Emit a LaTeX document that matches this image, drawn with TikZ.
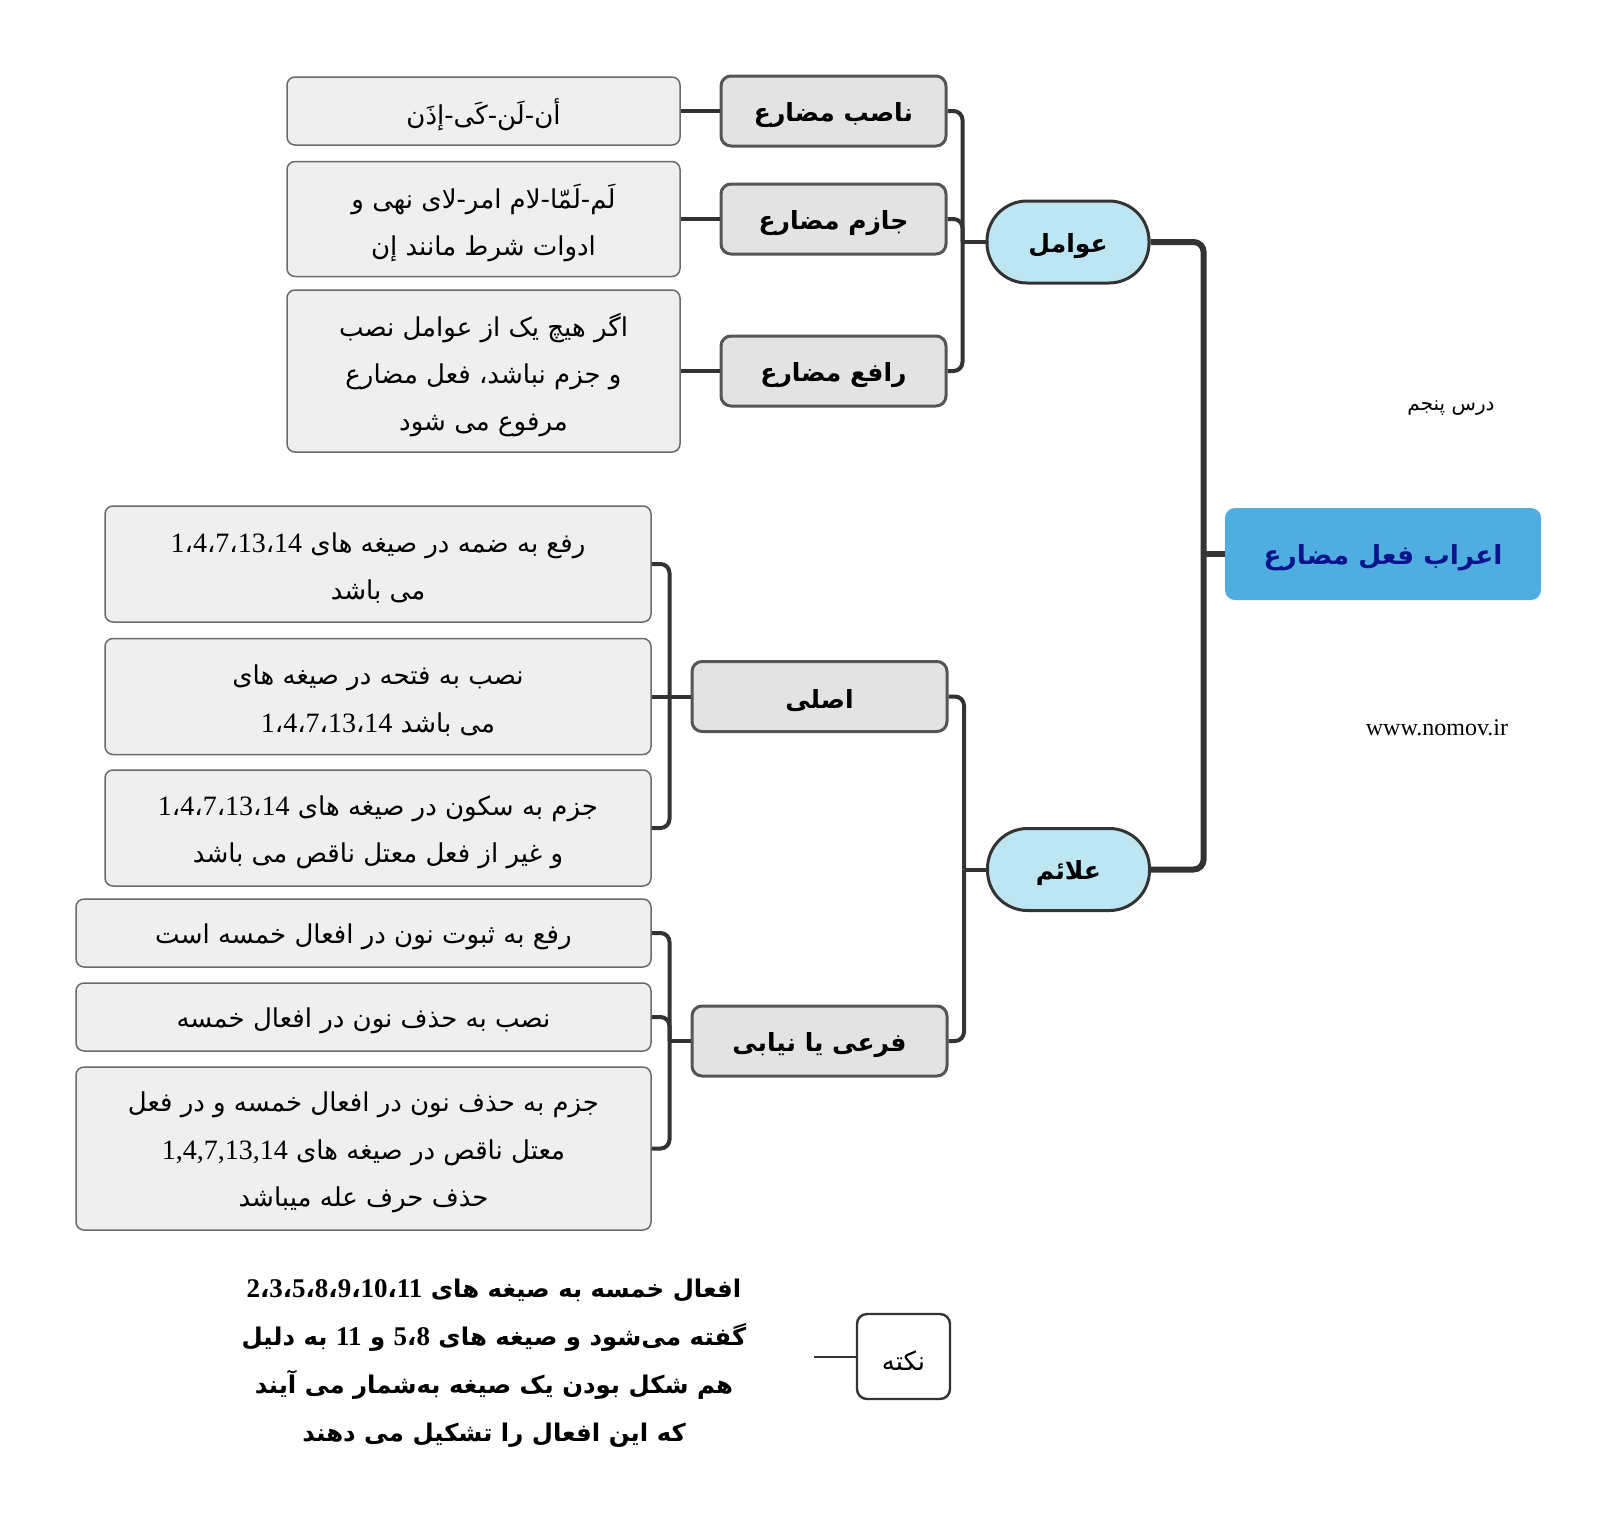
\documentclass[tikz,border=0pt]{standalone}
\usepackage{fontspec}
\usetikzlibrary{calc}
\TeXXeTstate=1
\newfontfamily\arfont[Script=Arabic]{DejaVu Sans}
\newfontfamily\dgfont{Liberation Serif}
\newcommand\ar[1]{\raisebox{-2pt}[\height][\depth]{\beginR #1\endR}}
\newcommand\dg[1]{{\dgfont\fontsize{14}{16}\selectfont #1}}
\newcommand\dgb[1]{{\dgfont\bfseries\fontsize{13.5}{16}\selectfont #1}}
\definecolor{leaffill}{HTML}{EFEFEF}
\definecolor{leafdraw}{HTML}{6B6B6B}
\definecolor{midfill}{HTML}{E3E3E3}
\definecolor{middraw}{HTML}{555555}
\definecolor{pillfill}{HTML}{BDE6F2}
\definecolor{linec}{HTML}{333333}
\definecolor{rootfill}{HTML}{4FAEDF}
\definecolor{roottext}{HTML}{0A148C}
\tikzset{
  leaf/.style={draw=leafdraw, line width=0.75pt, fill=leaffill, rounded corners=4pt,
    align=center, inner sep=0pt, font=\arfont\fontsize{13}{23.7}\selectfont},
  mid/.style={draw=middraw, line width=1.5pt, fill=midfill, rounded corners=5pt,
    align=center, inner sep=0pt, minimum height=35pt, font=\arfont\bfseries\fontsize{12.5}{16}\selectfont},
  pill/.style={draw=linec, line width=1.5pt, fill=pillfill, rounded corners=20pt,
    align=center, inner sep=0pt, minimum width=81pt, minimum height=41pt, font=\arfont\bfseries\fontsize{12.5}{16}\selectfont},
  rootbox/.style={fill=rootfill, rounded corners=5pt, text=roottext, align=center, inner sep=0pt,
    minimum width=158pt, minimum height=46pt, font=\arfont\bfseries\fontsize{13.2}{20}\selectfont},
  notebox/.style={draw=linec, line width=1.2pt, fill=white, rounded corners=5pt, inner sep=0pt,
    minimum width=46.5pt, minimum height=42.5pt, font=\arfont\fontsize{13}{16}\selectfont},
  con/.style={draw=linec, line width=2pt, rounded corners=4.5pt},
  rootcon/.style={draw=linec, line width=3pt, rounded corners=5pt},
  notecon/.style={draw=linec, line width=1pt},
}
\begin{document}
\begin{tikzpicture}[x=0.5pt,y=-0.5pt]
\useasboundingbox (0,0) rectangle (1617,1537);
\fill[white] (0,0) rectangle (1617,1537);

% root
\node[rootbox] (root) at (1383,554) {\ar{اعراب فعل مضارع}};

% level 1
\node[pill] (aw) at (1068,242) {\ar{عوامل}};
\node[pill] (al) at (1068.5,869.5) {\ar{علائم}};

% level 2
\node[mid, minimum width=112.5pt] (n1) at (833.5,111) {\ar{ناصب مضارع}};
\node[mid, minimum width=112.5pt] (n2) at (833.5,219) {\ar{جازم مضارع}};
\node[mid, minimum width=112.5pt] (n3) at (833.5,371) {\ar{رافع مضارع}};
\node[mid, minimum width=127.5pt] (as) at (819.5,696.5) {\ar{اصلی}};
\node[mid, minimum width=127.5pt] (fr) at (819.5,1041) {\ar{فرعی یا نیابی}};

% leaves of awamel
\node[leaf, minimum width=196.5pt, minimum height=34pt] (a1) at (483.5,111) {\ar{أن-لَن-کَی-إذَن}};
\node[leaf, minimum width=196.5pt, minimum height=57.5pt] (a2) at (483.5,219)
  {\ar{لَم-لَمّا-لام امر-لای نهی و}\\\ar{ادوات شرط مانند إن}};
\node[leaf, minimum width=196.5pt, minimum height=81pt] (a3) at (483.5,371)
  {\ar{اگر هیچ یک از عوامل نصب}\\\ar{و جزم نباشد، فعل مضارع}\\\ar{مرفوع می شود}};

% leaves of asli
\node[leaf, minimum width=273pt, minimum height=58pt] (b1) at (378,564)
  {\ar{رفع به ضمه در صیغه های \beginL\dg{1}،\dg{4}،\dg{7}،\dg{13}،\dg{14}\endL}\\\ar{می باشد}};
\node[leaf, minimum width=273pt, minimum height=58pt] (b2) at (378,696.5)
  {\ar{نصب به فتحه در صیغه های}\\\ar{می باشد \beginL\dg{1}،\dg{4}،\dg{7}،\dg{13}،\dg{14}\endL}};
\node[leaf, minimum width=273pt, minimum height=58pt] (b3) at (378,828)
  {\ar{جزم به سکون در صیغه های \beginL\dg{1}،\dg{4}،\dg{7}،\dg{13}،\dg{14}\endL}\\\ar{و غیر از فعل معتل ناقص می باشد}};

% leaves of far'i
\node[leaf, minimum width=287.5pt, minimum height=34pt] (c1) at (363.5,933) {\ar{رفع به ثبوت نون در افعال خمسه است}};
\node[leaf, minimum width=287.5pt, minimum height=34pt] (c2) at (363.5,1017) {\ar{نصب به حذف نون در افعال خمسه}};
\node[leaf, minimum width=287.5pt, minimum height=81.5pt] (c3) at (363.5,1148.5)
  {\ar{جزم به حذف نون در افعال خمسه و در فعل}\\\ar{معتل ناقص در صیغه های \beginL\dg{1,4,7,13,14}\endL}\\\ar{حذف حرف عله میباشد}};

% note
\node[notebox] (nk) at (903.5,1356.5) {\ar{نکته}};
\node[align=center, inner sep=0pt, font=\arfont\bfseries\fontsize{12.2}{24}\selectfont] (nt) at (494,1359)
  {\ar{افعال خمسه به صیغه های \beginL\dgb{2}،\dgb{3}،\dgb{5}،\dgb{8}،\dgb{9}،\dgb{10}،\dgb{11}\endL}\\
   \ar{گفته می‌شود و صیغه های \beginL\dgb{5}،\dgb{8}\endL{} و \dgb{11} به دلیل}\\
   \ar{هم شکل بودن یک صیغه به‌شمار می آیند}\\
   \ar{که این افعال را تشکیل می دهند}};
\coordinate (nkend) at (814,1356.5);
\draw[notecon] (nk.west) -- (nkend);

% side texts
\node[inner sep=0pt, font=\arfont\fontsize{10}{12}\selectfont] (dars) at (1451,404) {\ar{درس پنجم}};
\node[inner sep=0pt, font=\dgfont\fontsize{12}{14}\selectfont] (www) at (1437,728) {www.nomov.ir};

% junction coordinates
\coordinate (jr) at ($(root.west)+(-21,0)$);
\coordinate (ja) at ($(aw.west)+(-23,0)$);
\coordinate (jl) at ($(al.west)+(-22,0)$);
\coordinate (js) at ($(as.west)+(-21,0)$);
\coordinate (jf) at ($(fr.west)+(-21,0)$);

% root connectors
\draw[rootcon] (root.west) -- (jr);
\draw[rootcon] (aw.east) -| (jr);
\draw[rootcon] (al.east) -| (jr);

% awamel connectors
\draw[con] (aw.west) -- (ja);
\draw[con] (n1.east) -| (ja);
\draw[con] (n2.east) -| (ja);
\draw[con] (n3.east) -| (ja);
\draw[con] (n1.west) -- (a1.east);
\draw[con] (n2.west) -- (a2.east);
\draw[con] (n3.west) -- (a3.east);

% alaem connectors
\draw[con] (al.west) -- (jl);
\draw[con] (as.east) -| (jl);
\draw[con] (fr.east) -| (jl);

% asli connectors
\draw[con] (as.west) -- (js);
\draw[con] (b1.east) -| (js);
\draw[con] (b2.east) -- (js);
\draw[con] (b3.east) -| (js);

% far'i connectors
\draw[con] (fr.west) -- (jf);
\draw[con] (c1.east) -| (jf);
\draw[con] (c2.east) -| (jf);
\draw[con] (c3.east) -| (jf);
\end{tikzpicture}
\end{document}
